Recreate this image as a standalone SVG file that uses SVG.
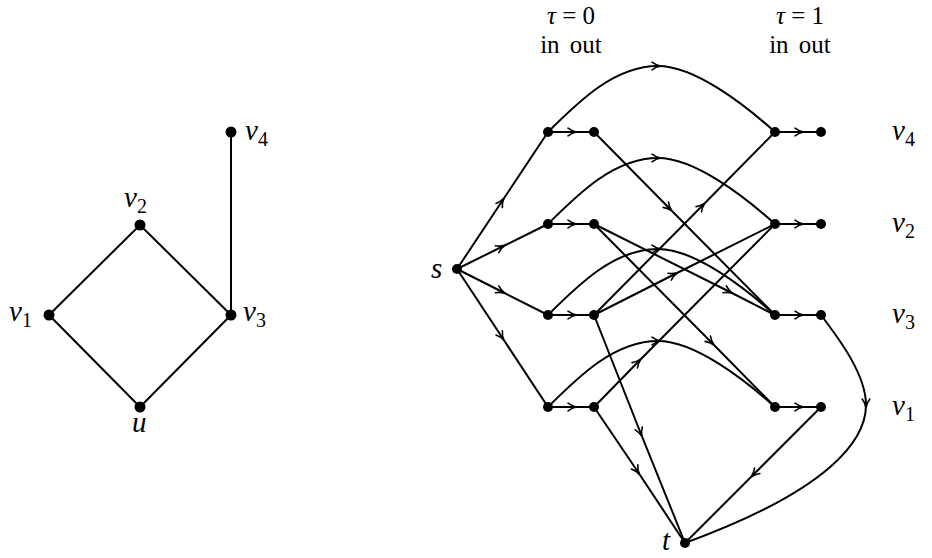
<svg xmlns="http://www.w3.org/2000/svg" width="932" height="558" viewBox="0 0 932 558">
<defs>
<marker id="ar" markerUnits="userSpaceOnUse" markerWidth="20" markerHeight="20" viewBox="-10 -10 20 20" refX="0" refY="0" orient="auto">
<path d="M-6,-3.8 Q-2,-0.8 2.5,0 Q-2,0.8 -6,3.8" fill="none" stroke="#000" stroke-width="1.6" stroke-linecap="round"/>
</marker>
</defs>
<style>
.e{fill:none;stroke:#000;stroke-width:2}
.a{marker-mid:url(#ar)}
.n{fill:#000}
text{font-family:"Liberation Serif","DejaVu Serif",serif;font-size:29px;fill:#000}
.i{font-style:italic}
.sb{font-size:20px}
.h{font-size:25px}
</style>
<rect width="932" height="558" fill="#fff"/>
<g id="connectors">
<path class="e" d="M231,132 L231,315"/>
<path class="e" d="M140,225 L49,315"/>
<path class="e" d="M140,225 L231,315"/>
<path class="e" d="M49,315 L140,407"/>
<path class="e" d="M140,407 L231,315"/>
<path class="e a" d="M457,269 L502.5,200.5 L548,132"/>
<path class="e a" d="M457,269 L502.5,246.5 L548,224"/>
<path class="e a" d="M457,269 L502.5,292 L548,315"/>
<path class="e a" d="M457,269 L502.5,338 L548,407"/>
<path class="e a" d="M548,132 L574,132 L594,132"/>
<path class="e a" d="M548,224 L574,224 L594,224"/>
<path class="e a" d="M548,315 L574,315 L594,315"/>
<path class="e a" d="M548,407 L574,407 L594,407"/>
<path class="e a" d="M775,132 L801,132 L821,132"/>
<path class="e a" d="M775,224 L801,224 L821,224"/>
<path class="e a" d="M775,315 L801,315 L821,315"/>
<path class="e a" d="M775,407 L801,407 L821,407"/>
<path class="e a" d="M548,132 C580,100 615,66 658,66 C695,66 745,105 775,132"/>
<path class="e a" d="M548,224 C580,192 615,158 658,158 C695,158 745,197 775,224"/>
<path class="e a" d="M548,315 C580,283 615,249 658,249 C695,249 745,288 775,315"/>
<path class="e a" d="M548,407 C580,375 615,341 658,341 C695,341 745,380 775,407"/>
<path class="e a" d="M594,132 L670,209 L775,315"/>
<path class="e a" d="M594,224 L730,292 L775,315"/>
<path class="e a" d="M594,224 L712,343 L775,407"/>
<path class="e a" d="M594,315 L703,205 L775,132"/>
<path class="e a" d="M594,315 L675,274 L775,224"/>
<path class="e a" d="M594,315 L641,434 L685,543"/>
<path class="e a" d="M594,407 L639,361 L775,224"/>
<path class="e a" d="M594,407 L638,472 L685,543"/>
<path class="e a" d="M821,407 L753,475 L685,543"/>
<path class="e a" d="M821,315 C840,340 866,375 866,405 C866,440 830,490 685,543"/>
</g>
<g id="left-v4"><circle class="n" cx="231" cy="132" r="5.5"/><text x="245" y="140"><tspan class="i">v</tspan><tspan class="sb" dy="6">4</tspan></text></g>
<g id="left-v2"><circle class="n" cx="140" cy="225" r="5.5"/><text x="124" y="207"><tspan class="i">v</tspan><tspan class="sb" dy="6">2</tspan></text></g>
<g id="left-v1"><circle class="n" cx="49" cy="315" r="5.5"/><text x="9" y="321"><tspan class="i">v</tspan><tspan class="sb" dy="6">1</tspan></text></g>
<g id="left-v3"><circle class="n" cx="231" cy="315" r="5.5"/><text x="243" y="321"><tspan class="i">v</tspan><tspan class="sb" dy="6">3</tspan></text></g>
<g id="left-u"><circle class="n" cx="140" cy="407" r="5.5"/><text class="i" x="132" y="432">u</text></g>
<g id="s"><circle class="n" cx="457" cy="269" r="5"/><text class="i" x="431" y="278">s</text></g>
<g id="t"><circle class="n" cx="685" cy="543" r="5"/><text class="i" x="662" y="550">t</text></g>
<g id="in0-v4"><circle class="n" cx="548" cy="132" r="5"/></g>
<g id="out0-v4"><circle class="n" cx="594" cy="132" r="5"/></g>
<g id="in0-v2"><circle class="n" cx="548" cy="224" r="5"/></g>
<g id="out0-v2"><circle class="n" cx="594" cy="224" r="5"/></g>
<g id="in0-v3"><circle class="n" cx="548" cy="315" r="5"/></g>
<g id="out0-v3"><circle class="n" cx="594" cy="315" r="5"/></g>
<g id="in0-v1"><circle class="n" cx="548" cy="407" r="5"/></g>
<g id="out0-v1"><circle class="n" cx="594" cy="407" r="5"/></g>
<g id="in1-v4"><circle class="n" cx="775" cy="132" r="5"/></g>
<g id="out1-v4"><circle class="n" cx="821" cy="132" r="5"/></g>
<g id="in1-v2"><circle class="n" cx="775" cy="224" r="5"/></g>
<g id="out1-v2"><circle class="n" cx="821" cy="224" r="5"/></g>
<g id="in1-v3"><circle class="n" cx="775" cy="315" r="5"/></g>
<g id="out1-v3"><circle class="n" cx="821" cy="315" r="5"/></g>
<g id="in1-v1"><circle class="n" cx="775" cy="407" r="5"/></g>
<g id="out1-v1"><circle class="n" cx="821" cy="407" r="5"/></g>
<g id="row-labels">
<text x="892" y="140"><tspan class="i">v</tspan><tspan class="sb" dy="6">4</tspan></text>
<text x="892" y="232"><tspan class="i">v</tspan><tspan class="sb" dy="6">2</tspan></text>
<text x="892" y="323"><tspan class="i">v</tspan><tspan class="sb" dy="6">3</tspan></text>
<text x="892" y="415"><tspan class="i">v</tspan><tspan class="sb" dy="6">1</tspan></text>
</g>
<g id="column-headers">
<text class="h" x="571" y="24" text-anchor="middle"><tspan class="i">τ</tspan> = 0</text>
<text class="h" x="571" y="53" text-anchor="middle" word-spacing="4">in out</text>
<text class="h" x="800" y="24" text-anchor="middle"><tspan class="i">τ</tspan> = 1</text>
<text class="h" x="800" y="53" text-anchor="middle" word-spacing="4">in out</text>
</g>
</svg>
